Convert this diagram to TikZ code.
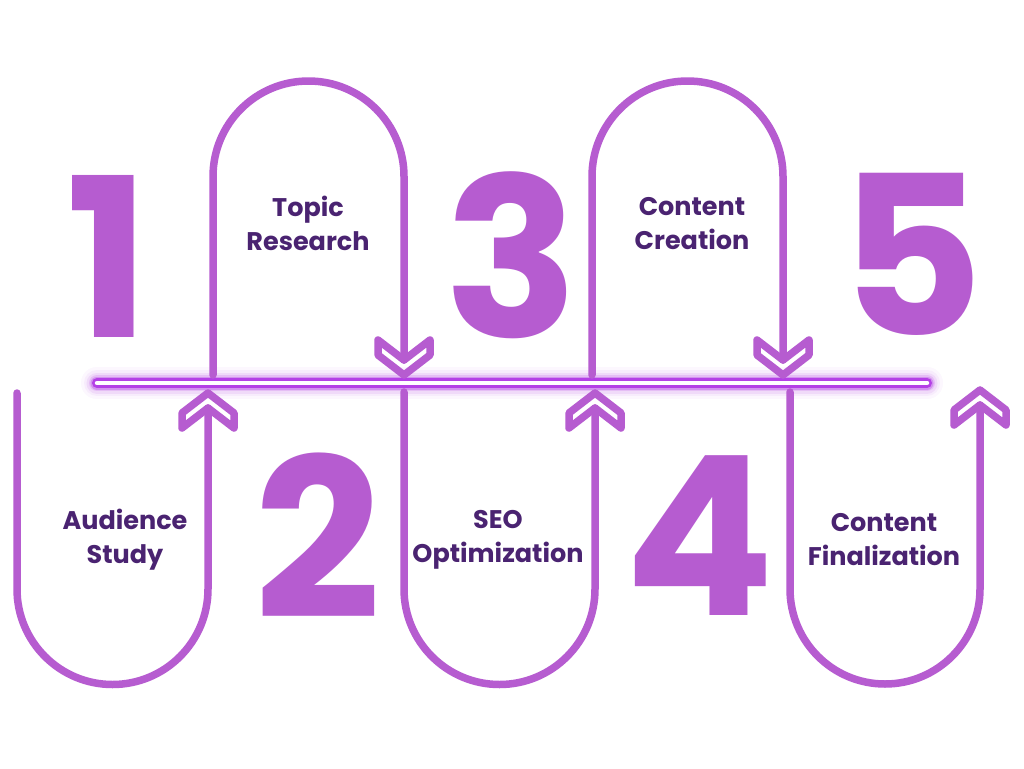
\documentclass[tikz,border=0pt]{standalone}
\usepackage{fontspec}
\setmainfont{Poppins}
\definecolor{lilac}{HTML}{B65CD0}
\definecolor{glow}{HTML}{B440E6}
\definecolor{ink}{HTML}{4A2371}
\tikzset{
  flow/.style={draw=lilac,line width=7.5pt,line cap=round,line join=round},
  label/.style={text=ink,font=\bfseries\fontsize{25.5}{34}\selectfont,align=center,inner sep=0pt},
  digit/.style={text=lilac,font=\bfseries\fontsize{222}{222}\selectfont,inner sep=0pt}
}
\begin{document}
\begin{tikzpicture}[x=1pt,y=1pt,yscale=-1]
\useasboundingbox (0,0) rectangle (1024,768);
\fill[white] (0,0) rectangle (1024,768);
% glowing timeline
\coordinate (L) at (97,383);
\coordinate (R) at (927,383);
\foreach \w/\o in {32/0.04,26/0.06,21/0.1,16/0.18,13/0.35}
  \draw[glow,line width=\w pt,line cap=round,opacity=\o] (L) -- (R);
\draw[glow,line width=10pt,line cap=round] (L) -- (R);
\draw[white,line width=4.5pt,line cap=round] (L) -- (R);
% up chevrons (apex x, apex y)
\foreach \x/\y in {208/393,595/393,980/390}
  \draw[flow] (\x,\y) -- (\x-26,\y+20) -- (\x-26,\y+35) -- (\x,\y+15) -- (\x+26,\y+35) -- (\x+26,\y+20) -- cycle;
% down chevrons
\foreach \x/\y in {404/375,783/375}
  \draw[flow] (\x,\y) -- (\x-26,\y-20) -- (\x-26,\y-35) -- (\x,\y-15) -- (\x+26,\y-35) -- (\x+26,\y-20) -- cycle;
% shape 1 (U, up arrow)
\coordinate (a1) at (17,393);
\coordinate (a2) at (17,589);
\coordinate (a3) at (208,408);
\draw[flow] (a1) -- (a2) arc[start angle=180,end angle=0,radius=95.5] -- (a3);
% shape 2 (arch, down arrow)
\coordinate (b1) at (213,375);
\coordinate (b2) at (213,176.5);
\coordinate (b3) at (404,360);
\draw[flow] (b1) -- (b2) arc[start angle=180,end angle=360,radius=95.5] -- (b3);
% shape 3 (U, up arrow)
\coordinate (c1) at (404,392);
\coordinate (c2) at (404,589);
\coordinate (c3) at (595,408);
\draw[flow] (c1) -- (c2) arc[start angle=180,end angle=0,radius=95.5] -- (c3);
% shape 4 (arch, down arrow)
\coordinate (d1) at (592,375);
\coordinate (d2) at (592,176.5);
\coordinate (d3) at (783,360);
\draw[flow] (d1) -- (d2) arc[start angle=180,end angle=360,radius=95.5] -- (d3);
% shape 5 (U, up arrow)
\coordinate (e1) at (790,392);
\coordinate (e2) at (790,589);
\coordinate (e3) at (980,405);
\draw[flow] (e1) -- (e2) arc[start angle=180,end angle=0,radius=95] -- (e3);
% numbers
\node[digit] (n1) at (108,256) {1};
\node[digit] (n2) at (318,536) {2};
\node[digit] (n3) at (512,255) {3};
\node[digit] (n4) at (700,536) {4};
\node[digit] (n5) at (912,254) {5};
% labels
\node[label] (t1) at (125,540) {Audience\\Study};
\node[label] (t2) at (308,223) {Topic\\Research};
\node[label] (t3) at (498,540) {SEO\\Optimization};
\node[label] (t4) at (692,224) {Content\\Creation};
\node[label] (t5) at (884,540) {Content\\Finalization};
\end{tikzpicture}
\end{document}
